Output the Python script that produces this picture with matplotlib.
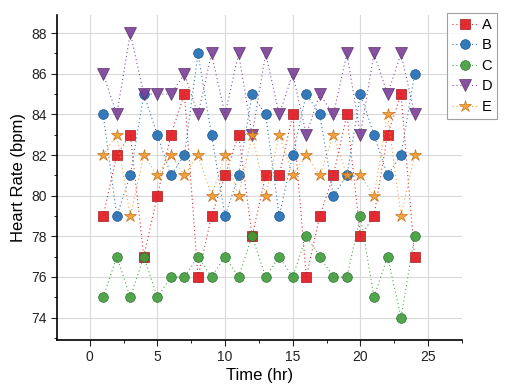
import numpy as np
import matplotlib
matplotlib.use('Agg')
import matplotlib.pyplot as plt
from matplotlib.ticker import MultipleLocator

plt.rcParams['font.family'] = ['Liberation Sans', 'DejaVu Sans']

# hourly heart rate readings for five subjects
hours = list(range(1, 25))
rate_a = [79, 82, 83, 77, 80, 83, 85, 76, 79, 81, 83, 78, 81, 81, 84, 76, 79, 81, 84, 78, 79, 83, 85, 77]
rate_b = [84, 79, 81, 85, 83, 81, 82, 87, 83, 79, 81, 85, 84, 79, 82, 85, 84, 80, 81, 85, 83, 81, 82, 86]
rate_c = [75, 77, 75, 77, 75, 76, 76, 77, 76, 77, 76, 78, 76, 77, 76, 78, 77, 76, 76, 79, 75, 77, 74, 78]
rate_d = [86, 84, 88, 85, 85, 85, 86, 84, 87, 84, 87, 83, 87, 84, 86, 83, 85, 84, 87, 83, 87, 85, 87, 84]
rate_e = [82, 83, 79, 82, 81, 82, 81, 82, 80, 82, 80, 83, 80, 83, 81, 82, 81, 83, 81, 81, 80, 84, 79, 82]
labels = ['A', 'B', 'C', 'D', 'E']

series = [rate_a, rate_b, rate_c, rate_d, rate_e]
colors = ['#e3141c', '#1f6db4', '#3f9c3a', '#7b3f98', '#f39a2b']
edges = ['#9a0c10', '#134a80', '#25662a', '#512563', '#c06a10']
markers = ['s', 'o', 'o', 'v', '*']
sizes = [7, 7, 7, 8, 9]

fig = plt.figure(figsize=(5.06, 3.92), dpi=100)
ax = fig.add_axes([0.113, 0.133, 0.80, 0.829])

for vals, lab, c, ec, m, s in zip(series, labels, colors, edges, markers, sizes):
    ax.plot(hours, vals, linestyle=(0, (1, 2.5)), linewidth=0.8, color=c, alpha=0.9,
            marker=m, markersize=s, markerfacecolor=c, markeredgecolor=ec,
            markeredgewidth=0.5, label=lab)

ax.set_xlim(-2.4, 27.5)
ax.set_ylim(72.9, 88.9)
ax.xaxis.set_major_locator(MultipleLocator(5))
ax.xaxis.set_minor_locator(MultipleLocator(2.5))
ax.yaxis.set_major_locator(MultipleLocator(2))
ax.yaxis.set_minor_locator(MultipleLocator(1))
ax.grid(True, which='major', color='#d9d9d9', linewidth=0.8)
ax.set_axisbelow(True)
ax.spines['top'].set_visible(False)
ax.spines['right'].set_visible(False)
ax.spines['left'].set_linewidth(1.2)
ax.spines['bottom'].set_linewidth(1.2)
ax.tick_params(axis='both', which='major', direction='out', length=4, labelsize=10, colors='#222222')
ax.tick_params(axis='both', which='minor', direction='out', length=2)

ax.set_xlabel('Time (hr)', fontsize=12, labelpad=3)
ax.set_ylabel('Heart Rate (bpm)', fontsize=12, labelpad=4)

leg = fig.legend(loc='upper left', bbox_to_anchor=(0.884, 0.968), fontsize=10.5,
                 frameon=True, fancybox=False, edgecolor='#888888',
                 handlelength=1.7, handletextpad=0.3, borderpad=0.35,
                 borderaxespad=0, labelspacing=0.45)
leg.get_frame().set_linewidth(0.8)

fig.savefig('out.png', dpi=100)
